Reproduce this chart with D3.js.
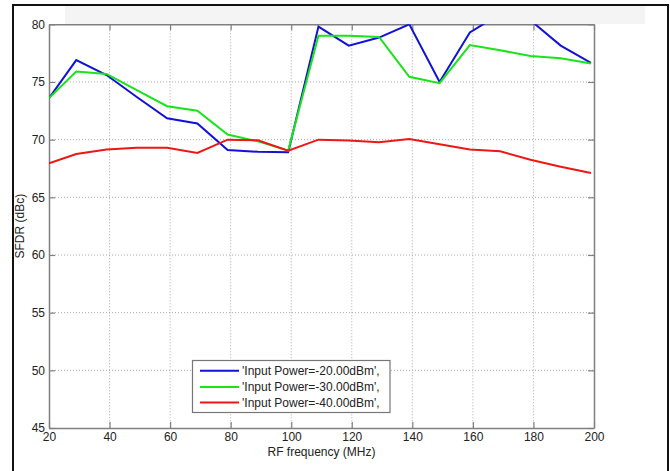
<!DOCTYPE html>
<html>
<head>
<meta charset="utf-8">
<script src="https://cdn.jsdelivr.net/npm/d3@7"></script>
<style>
  html, body { margin: 0; padding: 0; background: #fff; }
  svg { display: block; }
  text { font-family: "Liberation Sans", Arial, sans-serif; fill: #222; }
</style>
</head>
<body>
<svg id="chart" width="670" height="471"></svg>
<script>
// RF frequency sweep points (MHz)
const freqs = [20, 29, 39, 49, 59, 69, 79, 89, 99, 109, 119, 129, 139, 149, 159, 169, 179, 189, 199];

// SFDR (dBc) for each input power level
const sfdrMinus20 = [73.6, 76.9, 75.6, 73.7, 71.85, 71.4, 69.1, 68.95, 68.9, 79.8, 78.15, 78.85, 80.0, 75.0, 79.3, 80.9, 80.35, 78.15, 76.65];
const sfdrMinus30 = [73.6, 75.9, 75.7, 74.3, 72.9, 72.5, 70.45, 69.85, 69.05, 79.0, 79.0, 78.9, 75.45, 74.9, 78.2, 77.75, 77.25, 77.05, 76.6];
const sfdrMinus40 = [67.95, 68.75, 69.15, 69.3, 69.3, 68.85, 70.0, 69.95, 69.05, 70.0, 69.92, 69.78, 70.05, 69.6, 69.15, 69.0, 68.25, 67.65, 67.1];

const seriesNames = ["'Input Power=-20.00dBm',", "'Input Power=-30.00dBm',", "'Input Power=-40.00dBm',"];
const seriesColors = ["#1212d4", "#18e418", "#ee1616"];

const xTicks = [20, 40, 60, 80, 100, 120, 140, 160, 180, 200];
const yTicks = [45, 50, 55, 60, 65, 70, 75, 80];

const svg = d3.select("#chart");

// outer figure frame and header strip
svg.append("rect").attr("x", 13).attr("y", 5).attr("width", 655).attr("height", 480)
  .attr("fill", "#fff").attr("stroke", "#111").attr("stroke-width", 2);
svg.append("rect").attr("x", 65).attr("y", 6).attr("width", 580).attr("height", 18)
  .attr("fill", "#f4f4f4");

const plot = { left: 49, top: 24.3, right: 594, bottom: 428 };
const x = d3.scaleLinear().domain([20, 200]).range([plot.left, plot.right]);
const y = d3.scaleLinear().domain([45, 80]).range([plot.bottom, plot.top]);

const W = plot.right - plot.left, H = plot.bottom - plot.top;

// dotted grid
const grid = svg.append("g");
grid.selectAll(".gx").data(xTicks.slice(1, -1)).join("line")
  .attr("x1", d => x(d)).attr("x2", d => x(d)).attr("y1", plot.top).attr("y2", plot.bottom)
  .attr("stroke", "#aaa").attr("stroke-width", 1).attr("stroke-dasharray", "1,2");
grid.selectAll(".gy").data(yTicks.slice(1, -1)).join("line")
  .attr("x1", plot.left).attr("x2", plot.right).attr("y1", d => y(d)).attr("y2", d => y(d))
  .attr("stroke", "#aaa").attr("stroke-width", 1).attr("stroke-dasharray", "1,2");

// axes with inward ticks
const axisColor = "#808080";
const styleAxis = g => {
  g.select(".domain").attr("stroke", axisColor).attr("stroke-width", 1.5);
  g.selectAll(".tick line").attr("stroke", axisColor).attr("stroke-width", 1.2);
  g.selectAll(".tick text").attr("fill", "#222").style("font-size", "12px")
    .style("font-family", "'Liberation Sans', Arial, sans-serif");
};

svg.append("g").attr("transform", `translate(0,${plot.bottom})`)
  .call(d3.axisBottom(x).tickValues(xTicks).tickSizeInner(-6).tickSizeOuter(0).tickPadding(4))
  .call(styleAxis)
  .call(g => g.selectAll(".tick text").attr("dy", "0.71em").attr("y", 4));
svg.append("g").attr("transform", `translate(0,${plot.top})`)
  .call(d3.axisTop(x).tickValues(xTicks).tickSizeInner(-6).tickSizeOuter(0).tickFormat(""))
  .call(styleAxis);
svg.append("g").attr("transform", `translate(${plot.left},0)`)
  .call(d3.axisLeft(y).tickValues(yTicks).tickSizeInner(-6).tickSizeOuter(0).tickPadding(4))
  .call(styleAxis)
  .call(g => g.selectAll(".tick text").attr("x", -4));
svg.append("g").attr("transform", `translate(${plot.right},0)`)
  .call(d3.axisRight(y).tickValues(yTicks).tickSizeInner(-6).tickSizeOuter(0).tickFormat(""))
  .call(styleAxis);

// axis titles
svg.append("text").attr("x", x(110)).attr("y", 456).attr("text-anchor", "middle")
  .style("font-size", "12px").text("RF frequency (MHz)");
svg.append("text").attr("transform", `translate(24,${(plot.top + plot.bottom) / 2}) rotate(-90)`)
  .attr("text-anchor", "middle").style("font-size", "12px").text("SFDR (dBc)");

// data lines, clipped to the axes box
svg.append("clipPath").attr("id", "plotclip").append("rect")
  .attr("x", plot.left).attr("y", plot.top).attr("width", W).attr("height", H);

const seriesValues = [sfdrMinus20, sfdrMinus30, sfdrMinus40];
const line = d3.line().x(d => x(d[0])).y(d => y(d[1]));
svg.append("g").attr("clip-path", "url(#plotclip)")
  .selectAll("path").data(seriesValues).join("path")
  .attr("d", vals => line(freqs.map((f, i) => [f, vals[i]])))
  .attr("fill", "none").attr("stroke", (d, i) => seriesColors[i])
  .attr("stroke-width", 2).attr("stroke-linejoin", "miter");

// legend
const leg = svg.append("g");
leg.append("rect").attr("x", 192.5).attr("y", 360.5).attr("width", 197.5).attr("height", 52)
  .attr("fill", "#fff").attr("stroke", "#777").attr("stroke-width", 1.2);
const rowsY = [370.8, 387, 402.5];
seriesNames.forEach((name, i) => {
  leg.append("line").attr("x1", 200).attr("x2", 239).attr("y1", rowsY[i]).attr("y2", rowsY[i])
    .attr("stroke", seriesColors[i]).attr("stroke-width", 2);
  leg.append("text").attr("x", 242).attr("y", rowsY[i]).attr("dy", "0.35em")
    .style("font-size", "12px").text(name);
});
</script>
</body>
</html>
